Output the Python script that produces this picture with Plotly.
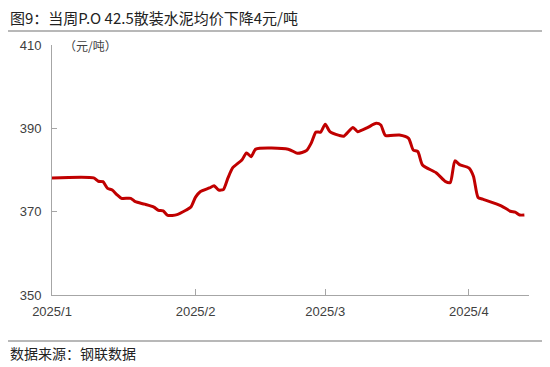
import plotly.graph_objects as go

# ---- data ----
dates = [
    "2025-01-01", "2025-01-10", "2025-01-11", "2025-01-12", "2025-01-13", "2025-01-14",
    "2025-01-15", "2025-01-16", "2025-01-18", "2025-01-19", "2025-01-21", "2025-01-23",
    "2025-01-24", "2025-01-25", "2025-01-26", "2025-01-28", "2025-01-30", "2025-01-31",
    "2025-02-01", "2025-02-02", "2025-02-04", "2025-02-05", "2025-02-06", "2025-02-07",
    "2025-02-08", "2025-02-09", "2025-02-11", "2025-02-12", "2025-02-13", "2025-02-14",
    "2025-02-21", "2025-02-23", "2025-02-24", "2025-02-25", "2025-02-26", "2025-02-27",
    "2025-02-28", "2025-03-01", "2025-03-02", "2025-03-04", "2025-03-05", "2025-03-07",
    "2025-03-08", "2025-03-10", "2025-03-12", "2025-03-13", "2025-03-14", "2025-03-17",
    "2025-03-19", "2025-03-20", "2025-03-21", "2025-03-22", "2025-03-25", "2025-03-27",
    "2025-03-28", "2025-03-29", "2025-03-30", "2025-04-01", "2025-04-02", "2025-04-03",
    "2025-04-04", "2025-04-08", "2025-04-10", "2025-04-11", "2025-04-12", "2025-04-13",
]
prices = [
    378.1, 378.1, 377.3, 377.2, 375.6, 375.2,
    374.1, 373.2, 373.2, 372.4, 371.8, 371.1,
    370.3, 370.2, 369.1, 369.3, 370.4, 371.1,
    373.5, 374.8, 375.7, 376.2, 375.2, 375.3,
    378.1, 380.5, 382.4, 384.1, 383.2, 385.0,
    385.0, 384.0, 384.2, 384.7, 386.5, 389.1,
    389.1, 391.0, 389.2, 388.3, 388.1, 390.2,
    389.2, 390.1, 391.2, 390.8, 388.3, 388.4,
    387.6, 384.8, 384.4, 381.2, 379.3, 377.2,
    377.0, 382.2, 381.3, 380.5, 378.5, 373.4,
    373.0, 371.4, 370.1, 369.9, 369.2, 369.2,
]

tick_vals = ["2025-01-01", "2025-02-01", "2025-03-01", "2025-04-01"]
tick_text = ["2025/1", "2025/2", "2025/3", "2025/4"]
y_ticks = [350, 370, 390, 410]

title_text = "图9：当周P.O 42.5散装水泥均价下降4元/吨"
unit_text = "（元/吨）"
source_text = "数据来源：钢联数据"

# ---- geometry (page pixels; the page body has an 8px margin) ----
OFF = 8
W, H = 550 - OFF, 367 - OFF
L, R, T, B = 52 - OFF, 529 - OFF, 45 - OFF, 295 - OFF
def px(x):
    return (x - OFF - L) / (R - L)
def py(y):
    return (B - (y - OFF)) / (B - T)

fig = go.Figure()
fig.add_trace(go.Scatter(
    x=dates, y=prices, mode="lines",
    line=dict(color="#C00000", width=3, shape="spline", smoothing=0.6),
    hoverinfo="skip", showlegend=False,
))

axis_col = "#A6A6A6"
tick_font = dict(family="Liberation Sans, Arial, sans-serif", size=13, color="#404040")
cjk = "Noto Sans CJK SC, sans-serif"

fig.update_layout(
    width=W, height=H,
    margin=dict(l=L, r=W - R, t=T, b=H - B),
    paper_bgcolor="white", plot_bgcolor="white",
    showlegend=False,
    xaxis=dict(
        type="date", range=["2025-01-01", "2025-04-14"],
        tickvals=tick_vals, ticktext=tick_text,
        ticks="inside", ticklen=6, tickcolor=axis_col, tickwidth=1,
        showline=True, linecolor=axis_col, linewidth=1,
        showgrid=False, zeroline=False, tickfont=tick_font,
        ticklabelstandoff=4,
    ),
    yaxis=dict(
        range=[350, 410], tickvals=y_ticks,
        ticks="inside", ticklen=5, tickcolor=axis_col, tickwidth=1,
        showline=True, linecolor=axis_col, linewidth=1,
        showgrid=False, zeroline=False, tickfont=tick_font,
        ticklabelstandoff=7,
    ),
)

fig.add_annotation(text=title_text, xref="paper", yref="paper",
                   x=px(OFF), y=py(18), xanchor="left", yanchor="middle",
                   showarrow=False, font=dict(family=cjk, size=15, color="#222222"))
fig.add_annotation(text=unit_text, xref="paper", yref="paper",
                   x=px(62), y=py(45), xanchor="left", yanchor="middle",
                   showarrow=False, font=dict(family=cjk, size=12, color="#404040"))
fig.add_annotation(text=source_text, xref="paper", yref="paper",
                   x=px(OFF), y=py(353), xanchor="left", yanchor="middle",
                   showarrow=False, font=dict(family=cjk, size=14, color="#222222"))

for yline in (31, 341):
    fig.add_shape(type="line", xref="paper", yref="paper",
                  x0=px(OFF), x1=px(550), y0=py(yline), y1=py(yline),
                  line=dict(color="#A0A0A0", width=1.5))

fig.write_html("out.html")
